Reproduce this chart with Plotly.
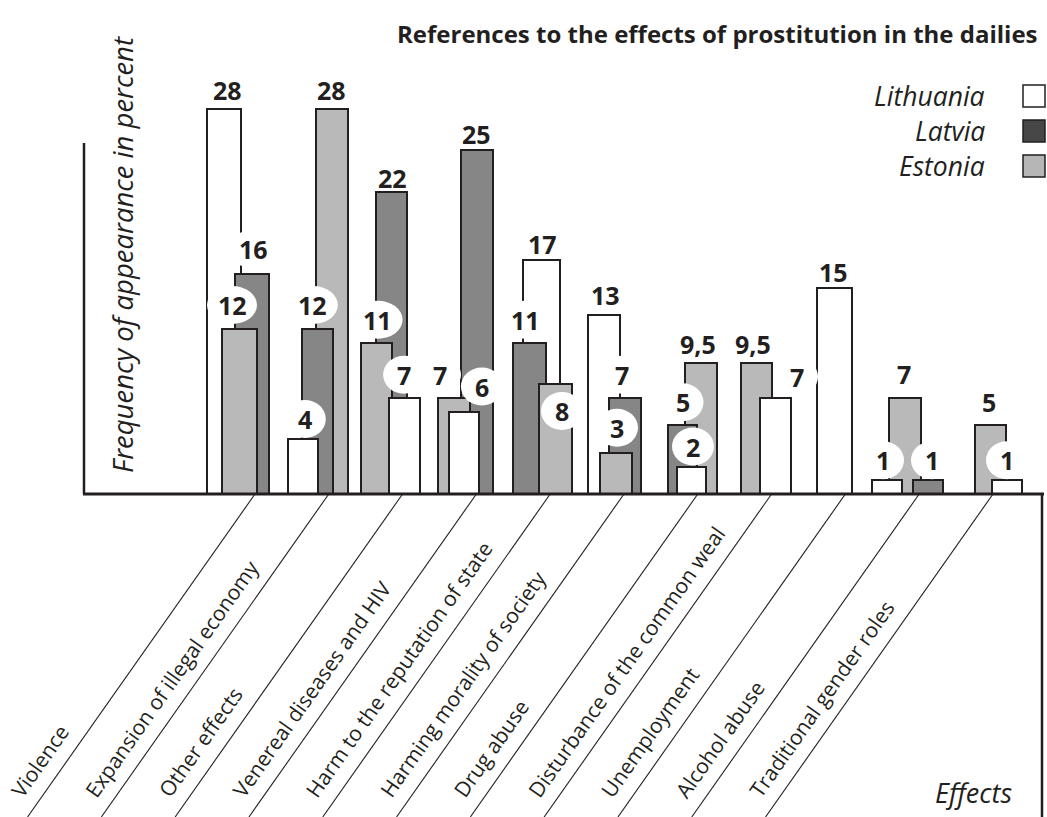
import plotly.graph_objects as go

# ---------------- data ----------------
categories = ["Violence", "Expansion of illegal economy", "Other effects",
              "Venereal diseases and HIV", "Harm to the reputation of state",
              "Harming morality of society", "Drug abuse",
              "Disturbance of the common weal", "Unemployment", "Alcohol abuse",
              "Traditional gender roles"]
series_names = ["Lithuania", "Latvia", "Estonia"]
lithuania = [28, 4, 7, 6, 17, 13, 2, 7, 15, 1, 1]
latvia = [16, 12, 22, 25, 11, 7, 5, None, None, 1, None]
estonia = [12, 28, 11, 7, 8, 3, 9.5, 9.5, None, 7, 5]
title_text = "References to the effects of prostitution in the dailies"
y_title = "Frequency of appearance in percent"
x_title = "Effects"

# ---------------- style / layout (hand-placed look of the original) ----------------
W, H = 1047, 817
BASE_PX = 494          # baseline pixel row
PX_PER_UNIT = 13.75    # vertical scale
LINE0, STEP = 255, 73.8  # where each category's leader line meets the axis
SLOPE = 1.42           # leader line dy/dx

bar_fill = {"Lithuania": "#ffffff", "Latvia": "#868686", "Estonia": "#b9b9b9"}
legend_fill = {"Lithuania": "#ffffff", "Latvia": "#474747", "Estonia": "#b6b6b6"}
INK = "#231f20"

# per category, per series: (centre offset from leader line, bar width)
bar_geom = {
    "Lithuania": [(-31, 34), (-25.5, 30), (1.5, 31), (-12, 30), (-8.7, 37), (-20, 32),
                  (-6.3, 29), (3.9, 31), (-10.9, 35), (-32.2, 30), (14, 30)],
    "Latvia":    [(-3, 34), (-11.5, 31), (-11.5, 31), (0.6, 32), (-20.7, 33), (1, 32),
                  (-15.3, 29), None, None, (8.8, 30), None],
    "Estonia":   [(-15.5, 35), (3, 32), (-26, 31), (-22.4, 32), (5.3, 33), (-8, 32),
                  (3.2, 32), (-15.1, 31), None, (-14.2, 32), (-2.5, 31)],
}
# per label: (dx from bar centre, gap above bar top in px, white mask?)
label_geom = {
    "Lithuania": [(3, 19, False), (1.5, 20, True), (0, 23, True), (17.5, 25, True),
                  (0.5, 16, False), (1, 20, False), (1.5, 20, True), (21.5, 21, True),
                  (-1.5, 16, False), (-4, 20, True), (0, 20, True)],
    "Latvia":    [(1, 25, True), (-4.5, 24, True), (1.5, 14, False), (-1, 16, False),
                  (-4.5, 23, True), (-3, 23, True), (0, 23, True), None, None,
                  (4, 20, True), None],
    "Estonia":   [(-7.5, 24, True), (0, 19, False), (1, 23, True), (-14, 23, True),
                  (6.5, -27, True), (1, 25, True), (-3, 19, False), (-3.5, 19, False),
                  None, (-1, 24, False), (-1.5, 23, False)],
}

values = {"Lithuania": lithuania, "Latvia": latvia, "Estonia": estonia}


def py_to_val(py):
    return (BASE_PX - py) / PX_PER_UNIT


def fmt(v):
    s = ("%g" % v)
    return s.replace(".", ",")


# collect bars, largest drawn first (behind) within each category
ranked = [[], [], []]
for i, _ in enumerate(categories):
    items = []
    for s in series_names:
        v = values[s][i]
        if v is not None:
            items.append((v, s))
    items.sort(key=lambda t: -t[0])
    for r, (v, s) in enumerate(items):
        ranked[r].append((i, s, v))

fig = go.Figure()
for r, items in enumerate(ranked):
    xs, ys, ws, cs, names = [], [], [], [], []
    for i, s, v in items:
        off, w = bar_geom[s][i]
        xs.append(LINE0 + STEP * i + off)
        ys.append(v)
        ws.append(w)
        cs.append(bar_fill[s])
        names.append(f"{s} – {categories[i]}")
    fig.add_trace(go.Bar(x=xs, y=ys, width=ws, marker=dict(color=cs, line=dict(color=INK, width=2)),
                         hovertext=names, hoverinfo="text+y", showlegend=False))

shapes = []
annotations = []

# value labels with white elliptical masks
for s in series_names:
    for i, v in enumerate(values[s]):
        if v is None:
            continue
        off, w = bar_geom[s][i]
        dx, gap, mask = label_geom[s][i]
        cx = LINE0 + STEP * i + off + dx
        cy = v + gap / PX_PER_UNIT
        txt = fmt(v)
        if mask:
            hw = 21 if len(txt) == 1 else 25
            hh = 19 / PX_PER_UNIT
            shapes.append(dict(type="circle", xref="x", yref="y", x0=cx - hw, x1=cx + hw,
                               y0=cy - hh, y1=cy + hh, fillcolor="white",
                               line=dict(width=0), layer="above"))
        annotations.append(dict(x=cx, y=cy, xref="x", yref="y", text=f"<b>{txt}</b>",
                                showarrow=False, xanchor="center", yanchor="middle",
                                font=dict(family="Open Sans", size=25, color=INK)))

# axes drawn in the original's style
Y_TOP = py_to_val(143)
Y_BOT = py_to_val(H)
shapes.append(dict(type="line", xref="x", yref="y", x0=84, x1=84, y0=0, y1=Y_TOP,
                   line=dict(color=INK, width=2.5), layer="above"))
shapes.append(dict(type="line", xref="x", yref="y", x0=83, x1=1044, y0=0, y1=0,
                   line=dict(color=INK, width=3), layer="above"))
shapes.append(dict(type="line", xref="x", yref="y", x0=1042, x1=1042, y0=0, y1=Y_BOT,
                   line=dict(color=INK, width=2.5), layer="above"))

# leader lines and category labels (labels in paper coords so they may sit at the edge)
for i, cat in enumerate(categories):
    lx = LINE0 + STEP * i
    shapes.append(dict(type="line", xref="x", yref="y", x0=lx, y0=0,
                       x1=lx - (H - BASE_PX) / SLOPE, y1=Y_BOT,
                       line=dict(color=INK, width=1.1)))
    annotations.append(dict(x=(lx - 253) / W, y=1 - 805.5 / H, xref="paper", yref="paper",
                            text=cat, textangle=-54.9, showarrow=False,
                            xanchor="left", yanchor="bottom",
                            font=dict(family="Open Sans", size=21, color=INK)))

# title, axis titles
annotations.append(dict(x=1040, y=py_to_val(33), xref="x", yref="y", text=f"<b>{title_text}</b>",
                        showarrow=False, xanchor="right", yanchor="middle",
                        font=dict(family="Open Sans", size=24, color=INK)))
annotations.append(dict(x=122, y=py_to_val(255), xref="x", yref="y", text=f"<i>{y_title}</i>",
                        textangle=-90, showarrow=False, xanchor="center", yanchor="middle",
                        font=dict(family="Open Sans", size=27.5, color=INK)))
annotations.append(dict(x=1014, y=py_to_val(792), xref="x", yref="y", text=f"<i>{x_title}</i>",
                        showarrow=False, xanchor="right", yanchor="middle",
                        font=dict(family="Open Sans", size=27, color=INK)))

# legend (text left of swatch)
for k, s in enumerate(series_names):
    cy = 96 + 35 * k
    annotations.append(dict(x=987, y=py_to_val(cy), xref="x", yref="y", text=f"<i>{s}</i>",
                            showarrow=False, xanchor="right", yanchor="middle",
                            font=dict(family="Open Sans", size=26.5, color=INK)))
    shapes.append(dict(type="rect", xref="x", yref="y", x0=1023, x1=1045,
                       y0=py_to_val(cy + 11), y1=py_to_val(cy - 11),
                       fillcolor=legend_fill[s], line=dict(color=INK, width=1.5), layer="above"))

fig.update_layout(
    width=W, height=H,
    margin=dict(l=0, r=0, t=0, b=0),
    paper_bgcolor="white", plot_bgcolor="white",
    barmode="overlay", bargap=0,
    xaxis=dict(range=[0, W], visible=False, fixedrange=True),
    yaxis=dict(range=[Y_BOT, py_to_val(0)], visible=False, fixedrange=True),
    shapes=shapes, annotations=annotations,
    showlegend=False,
)

fig.write_html("out.html", config={"displayModeBar": False},
               post_script="document.body.style.margin='0';")
